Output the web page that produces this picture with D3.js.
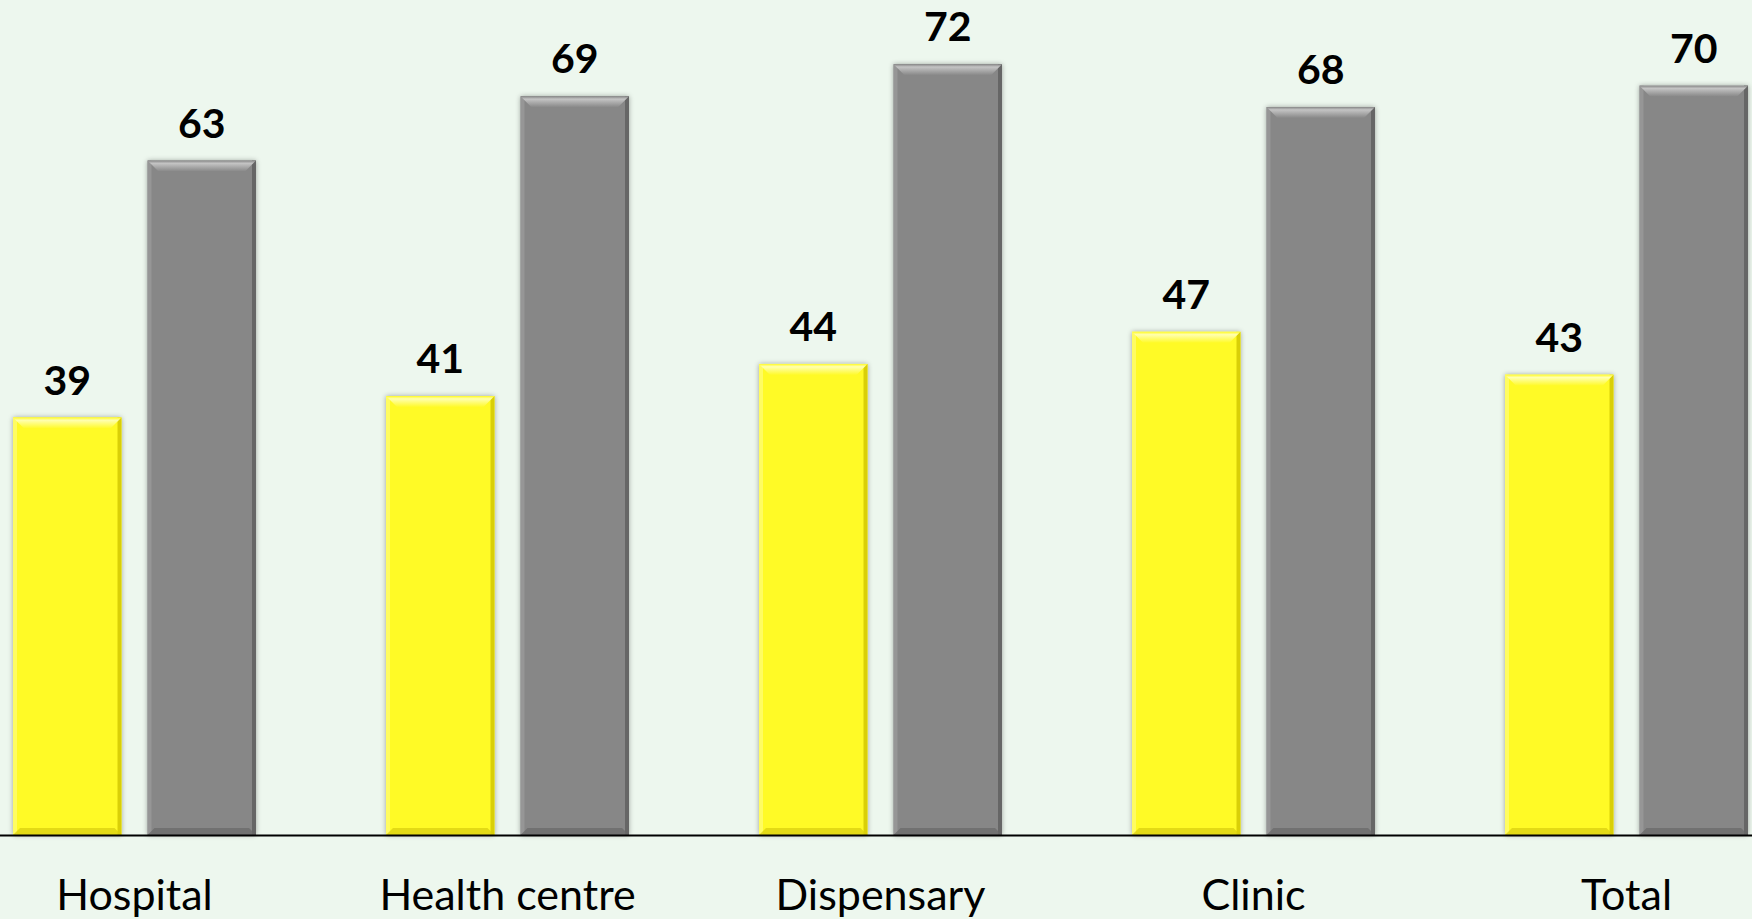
<!DOCTYPE html>
<html>
<head>
<meta charset="utf-8">
<script src="https://cdn.jsdelivr.net/npm/d3@7"></script>
<style>
  html, body { margin: 0; padding: 0; background: #EDF7EE; overflow: hidden; }
  svg { display: block; }
</style>
</head>
<body>
<svg id="chart" width="1752" height="919"></svg>
<script>
// ---- data ----
const categories = ["Hospital", "Health centre", "Dispensary", "Clinic", "Total"];
const seriesKeys = ["first", "second"];
const firstValues = [39, 41, 44, 47, 43];
const secondValues = [63, 69, 72, 68, 70];

const W = 1752, H = 919;
const svg = d3.select("#chart");
svg.append("rect").attr("width", W).attr("height", H).attr("fill", "#EDF7EE");

const baseY = 835;
const y = d3.scaleLinear().domain([0, 78]).range([baseY, 0]);
const x0 = d3.scaleBand().domain(categories).range([-52, 1813]).paddingInner(0).paddingOuter(0);
const x1 = d3.scaleBand().domain(seriesKeys).range([65, 308]).paddingInner(0.1933).paddingOuter(0);

const styles = {
  first:  { base: "#FFFA28", top: "#FFFFB0", left: "#FFFD70", right: "#CFC400", bottom: "#D9CF10" },
  second: { base: "#878787", top: "#C4C4C4", left: "#9A9A9A", right: "#5E5E5E", bottom: "#6A6A6A" }
};

const defs = svg.append("defs");
const f = defs.append("filter").attr("id", "sh").attr("x", "-20%").attr("y", "-20%").attr("width", "140%").attr("height", "140%");
f.append("feDropShadow").attr("dx", 0).attr("dy", 0).attr("stdDeviation", 2.5)
  .attr("flood-color", "#000").attr("flood-opacity", 0.35);
seriesKeys.forEach(k => {
  const g = defs.append("linearGradient").attr("id", "top-" + k).attr("x1", 0).attr("y1", 0).attr("x2", 0).attr("y2", 1);
  g.append("stop").attr("offset", "0%").attr("stop-color", styles[k].base).attr("stop-opacity", 1);
  g.append("stop").attr("offset", "25%").attr("stop-color", styles[k].top);
  g.append("stop").attr("offset", "100%").attr("stop-color", styles[k].base);
});

const rows = categories.map((c, i) => ({ cat: c, first: firstValues[i], second: secondValues[i] }));

const groups = svg.selectAll("g.cat").data(rows).join("g")
  .attr("class", "cat")
  .attr("transform", d => `translate(${x0(d.cat)},0)`);

const bars = groups.selectAll("g.bar")
  .data(d => seriesKeys.map(k => ({ key: k, value: d[k] })))
  .join("g").attr("class", "bar")
  .attr("transform", d => `translate(${x1(d.key)},${y(d.value)})`);

const bw = x1.bandwidth();
const bt = 11, bs = 4, bb = 7;
bars.each(function(d) {
  const g = d3.select(this);
  const h = baseY - y(d.value);
  const s = styles[d.key];
  g.append("rect").attr("width", bw).attr("height", h).attr("fill", s.base).attr("filter", "url(#sh)");
  g.append("rect").attr("x", 0).attr("width", bs).attr("height", h).attr("fill", s.left).attr("opacity", 0.8);
  g.append("rect").attr("x", bw - bs).attr("width", bs).attr("height", h).attr("fill", s.right).attr("opacity", 0.8);
  g.append("polygon").attr("points", `0,0 ${bw},0 ${bw - bt},${bt} ${bt},${bt}`).attr("fill", `url(#top-${d.key})`);
  g.append("polygon").attr("points", `0,${h} ${bw},${h} ${bw - bb},${h - bb} ${bb},${h - bb}`).attr("fill", s.bottom).attr("opacity", 0.75);
});

// value labels
bars.append("text")
  .attr("x", bw / 2)
  .attr("y", -23)
  .attr("text-anchor", "middle")
  .attr("font-family", "Lato, 'Open Sans', sans-serif")
  .attr("font-weight", "bold")
  .attr("font-size", 41)
  .attr("fill", "#000")
  .text(d => d.value);

// axis
const axis = svg.append("g").attr("transform", `translate(0,${baseY})`)
  .call(d3.axisBottom(x0).tickSize(0).tickPadding(0));
axis.select(".domain").attr("stroke", "#000").attr("stroke-width", 2);
axis.selectAll(".tick text")
  .attr("y", 75).attr("dy", 0)
  .attr("font-family", "Lato, 'Open Sans', sans-serif")
  .attr("font-size", 43)
  .attr("fill", "#000");
</script>
</body>
</html>
